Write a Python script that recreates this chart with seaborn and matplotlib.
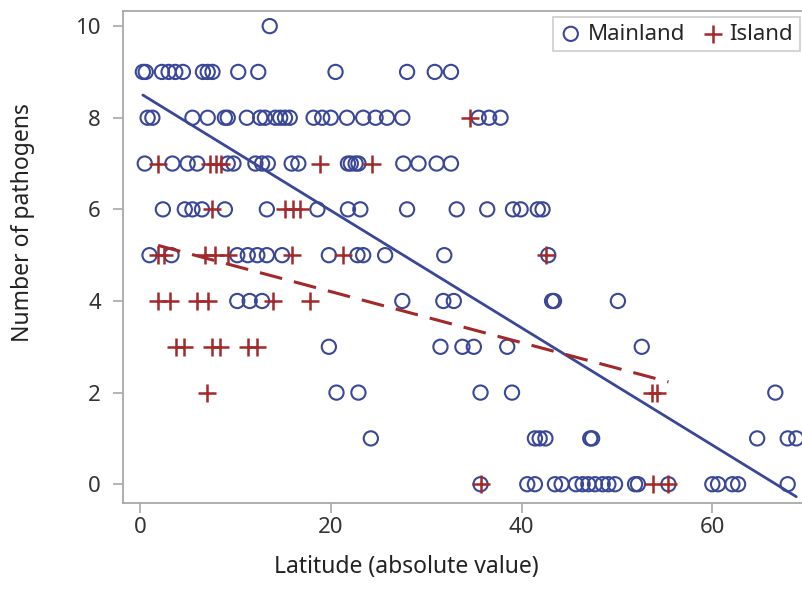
#!/usr/bin/env python3

import numpy as np
import pandas as pd
import matplotlib
matplotlib.use("Agg")
import matplotlib.pyplot as plt
import seaborn as sns

BLUE = "#3A4796"
RED = "#A2282A"

# latitude of each point, one list per pathogen count
mainland_10 = [13.6]
mainland_9 = [0.3, 0.6, 2.3, 3.0, 3.7, 4.5, 6.6, 7.1, 7.6, 10.3, 12.4, 20.5, 28.0, 30.9, 32.6]
mainland_8 = [0.8, 1.3, 5.5, 7.1, 8.9, 9.2, 11.2, 12.6, 13.1, 14.2, 14.7, 15.2, 15.7, 18.2, 19.1,
              20.0, 21.7, 23.4, 24.7, 25.9, 27.5, 35.5, 36.6, 37.8]
mainland_7 = [0.5, 3.4, 5.0, 6.0, 9.2, 9.8, 12.1, 12.8, 13.4, 15.9, 16.6, 21.8, 22.1, 22.6, 22.9,
              27.6, 29.2, 31.1, 32.6]
mainland_6 = [2.4, 4.7, 5.5, 6.5, 8.9, 13.3, 18.6, 21.8, 23.1, 28.0, 33.2, 36.4, 39.1, 39.9, 41.7, 42.2]
mainland_5 = [1.0, 3.3, 10.2, 11.3, 12.3, 13.3, 14.9, 19.8, 22.8, 23.4, 25.7, 31.9, 42.8]
mainland_4 = [10.2, 11.5, 12.8, 27.5, 31.8, 32.9, 43.2, 43.4, 50.1]
mainland_3 = [19.8, 31.5, 33.8, 35.0, 38.5, 52.6]
mainland_2 = [20.6, 22.9, 35.7, 39.0, 66.6]
mainland_1 = [24.2, 41.4, 41.9, 42.5, 47.2, 47.4, 64.7, 67.9, 68.8]
mainland_0 = [35.7, 40.6, 41.4, 43.5, 44.2, 45.7, 46.4, 47.0, 47.7, 48.5, 49.1, 49.8, 51.9, 52.2,
              55.4, 60.0, 60.6, 62.1, 62.7, 67.9]

island_8 = [34.6]
island_7 = [1.9, 7.3, 8.0, 8.5, 18.9, 24.3]
island_6 = [7.6, 15.2, 16.0, 16.8]
island_5 = [1.9, 2.5, 6.8, 7.9, 9.2, 15.9, 21.3, 42.6]
island_4 = [1.9, 3.1, 6.0, 7.1, 13.9, 17.8]
island_3 = [3.8, 4.6, 7.5, 8.4, 11.3, 12.3]
island_2 = [7.0, 53.7, 54.2]
island_0 = [35.7, 53.8, 55.4]

mainland_rows = {10: mainland_10, 9: mainland_9, 8: mainland_8, 7: mainland_7, 6: mainland_6,
                 5: mainland_5, 4: mainland_4, 3: mainland_3, 2: mainland_2, 1: mainland_1,
                 0: mainland_0}
island_rows = {8: island_8, 7: island_7, 6: island_6, 5: island_5, 4: island_4, 3: island_3,
               2: island_2, 0: island_0}


def to_frame(rows):
    lat, n = [], []
    for count, lats in rows.items():
        lat += lats
        n += [count] * len(lats)
    return pd.DataFrame({"lat": lat, "n": n})


def main():
    sns.set_style("white")
    plt.rcParams["font.family"] = ["Noto Sans", "DejaVu Sans"]

    main_df = to_frame(mainland_rows)
    isl_df = to_frame(island_rows)

    fig = plt.figure(figsize=(8.03, 6.06), dpi=100)
    ax = fig.add_axes([123 / 803, 103 / 606, 700 / 803, 492 / 606])

    sns.scatterplot(data=main_df, x="lat", y="n", marker="o", s=105, facecolors="none",
                    edgecolor=BLUE, linewidth=1.5, label="Mainland", ax=ax, zorder=3)
    sns.scatterplot(data=isl_df, x="lat", y="n", marker="+", s=150, color=RED,
                    linewidth=1.8, label="Island", ax=ax, zorder=4)

    sns.regplot(data=main_df, x="lat", y="n", scatter=False, ci=None, ax=ax,
                line_kws=dict(color=BLUE, lw=2.0, zorder=5))
    sns.regplot(data=isl_df, x="lat", y="n", scatter=False, ci=None, ax=ax,
                line_kws=dict(color=RED, lw=2.2, dashes=(7.5, 4), zorder=5))

    ax.set_xlim(-1.78, 71.6)
    ax.set_ylim(-0.41, 10.33)
    ax.set_xticks([0, 20, 40, 60])
    ax.set_yticks([0, 2, 4, 6, 8, 10])

    for s in ax.spines.values():
        s.set_color("#A8A8A8")
        s.set_linewidth(1.3)
    ax.tick_params(axis="both", which="major", direction="out", length=7, width=1.2,
                   color="#A8A8A8", labelsize=16, labelcolor="#333333")
    ax.tick_params(axis="y", pad=9)
    ax.tick_params(axis="x", pad=3)
    ax.tick_params(bottom=True, left=True)

    ax.set_xlabel("Latitude (absolute value)", fontsize=16.5, color="#222222")
    ax.set_ylabel("Number of pathogens", fontsize=16.5, color="#222222")
    ax.xaxis.set_label_coords(0.405, -0.105)
    ax.yaxis.set_label_coords(-0.126, 0.571)

    leg = ax.legend(loc="upper left", bbox_to_anchor=(553 / 803, 1 - 17 / 606),
                    bbox_transform=fig.transFigure, ncol=2, fontsize=16, frameon=True,
                    fancybox=False, handletextpad=0.25, columnspacing=0.75, borderpad=0.3,
                    handlelength=1.0, borderaxespad=0)
    leg.get_frame().set_edgecolor("#C0C0C0")
    leg.get_frame().set_linewidth(1.2)

    fig.savefig("out.png", dpi=100)


if __name__ == "__main__":
    main()
